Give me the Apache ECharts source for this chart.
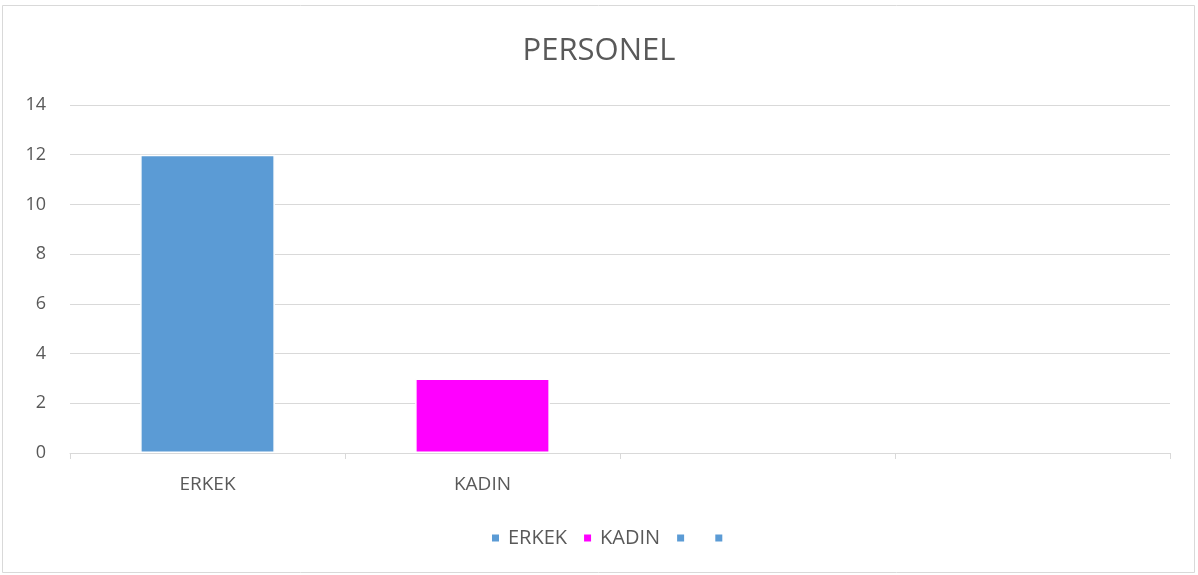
<!DOCTYPE html>
<html>
<head>
<meta charset="utf-8">
<title>PERSONEL</title>
<script src="https://cdn.jsdelivr.net/npm/echarts@6/dist/echarts.min.js"></script>
<style>
  html, body { margin: 0; padding: 0; background: #fff; }
  #personel_con { width: 1198px; height: 575px; }
</style>
</head>
<body>
<div id="personel_con"></div>
<script>
// chart data
const categories = ["ERKEK", "KADIN", " ", "  "];
const legendNames = ["ERKEK", "KADIN", " ", "  "];
const values = [12, 3, null, null];
const barColors = ["#5B9BD5", "#FF00FF", "#5B9BD5", "#5B9BD5"];
const yTicks = [0, 2, 4, 6, 8, 10, 12, 14];

const chart = echarts.init(document.getElementById("personel_con"));

// one series per category so the legend lists every category
const series = categories.map(function (cat, i) {
  return {
    name: legendNames[i],
    type: "bar",
    stack: "personel",
    barWidth: "49%",
    itemStyle: { color: barColors[i], borderColor: "#fff", borderWidth: 1.5 },
    data: categories.map(function (c, j) {
      return j === i && values[i] != null ? values[i] : "-";
    })
  };
});

// first legend entry has a little more room after it, like the original
const legendData = legendNames.map(function (n, i) {
  return i === 0 ? { name: n, textStyle: { padding: [0, 18, 0, 3] } } : { name: n };
});

const option = {
  animation: false,
  textStyle: { fontFamily: "Open Sans" },
  title: {
    text: "PERSONEL",
    left: "center",
    top: 31,
    textStyle: { fontSize: 31, fontWeight: "normal", color: "#595959", fontFamily: "Open Sans" }
  },
  legend: {
    bottom: 22,
    left: 485,
    icon: "rect",
    itemWidth: 9,
    itemHeight: 9,
    itemGap: 15,
    data: legendData,
    textStyle: { fontSize: 20, color: "#595959", padding: [0, 0, 0, 3] }
  },
  grid: { left: 70, right: 28, top: 105, bottom: 122 },
  xAxis: {
    type: "category",
    data: categories,
    axisLine: { lineStyle: { color: "#d9d9d9" } },
    axisTick: { show: true, length: 6, lineStyle: { color: "#d9d9d9" } },
    axisLabel: { color: "#595959", fontSize: 19, margin: 22 }
  },
  yAxis: {
    type: "value",
    min: yTicks[0],
    max: yTicks[yTicks.length - 1],
    interval: 2,
    axisLine: { show: false },
    axisTick: { show: false },
    axisLabel: { color: "#595959", fontSize: 18, margin: 24 },
    splitLine: { lineStyle: { color: "#d9d9d9", width: 1 } }
  },
  graphic: [{
    type: "rect",
    shape: { x: 2.5, y: 5.5, width: 1192, height: 567 },
    style: { fill: "none", stroke: "#d9d9d9", lineWidth: 1 },
    silent: true
  }],
  series: series
};

chart.setOption(option);

window.addEventListener("resize", function () {
  chart.resize();
});
</script>
</body>
</html>
